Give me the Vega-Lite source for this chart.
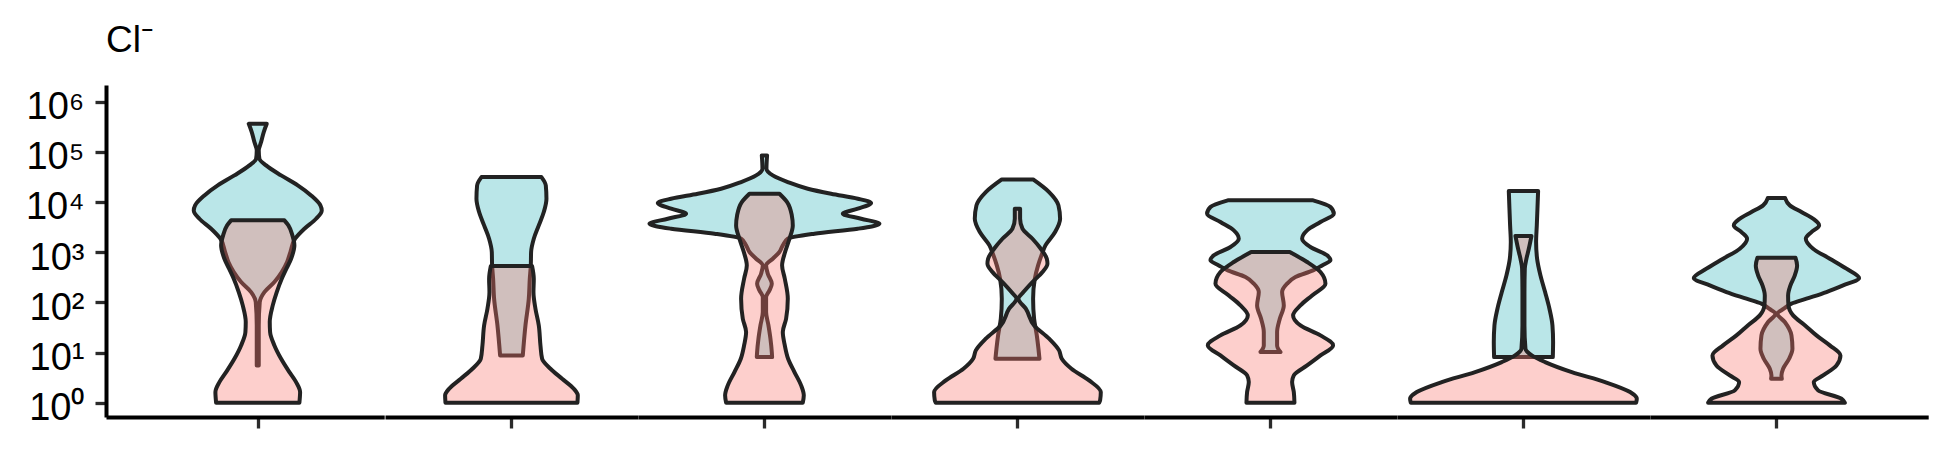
{
  "$schema": "https://vega.github.io/schema/vega-lite/v6.json",
  "background": "white",
  "padding": {"left": 25, "top": 22, "right": 5, "bottom": 5},
  "config": {"view": {"stroke": null}, "font": "Liberation Sans", "concat": {"spacing": 0}},
  "spacing": 0,
  "resolve": {"scale": {"x": "independent", "y": "independent"}},
  "data": {"values": [
    {"site":"S1","group":"A","cl":361000,"density":18},{"site":"S1","group":"A","cl":247000,"density":12},{"site":"S1","group":"A","cl":156000,"density":6.7},{"site":"S1","group":"A","cl":106400,"density":2},{"site":"S1","group":"A","cl":72600,"density":3.3},{"site":"S1","group":"A","cl":53500,"density":16.7},{"site":"S1","group":"A","cl":33800,"density":46.7},{"site":"S1","group":"A","cl":21400,"density":80},{"site":"S1","group":"A","cl":13500,"density":106.7},{"site":"S1","group":"A","cl":8550,"density":125.3},{"site":"S1","group":"A","cl":6790,"density":128},{"site":"S1","group":"A","cl":4630,"density":116.7},{"site":"S1","group":"A","cl":2930,"density":93.3},{"site":"S1","group":"A","cl":1850,"density":74.7},{"site":"S1","group":"A","cl":1005,"density":65.3},{"site":"S1","group":"A","cl":635,"density":58.7},{"site":"S1","group":"A","cl":401,"density":48},{"site":"S1","group":"A","cl":254,"density":33.3},{"site":"S1","group":"A","cl":160,"density":13.3},{"site":"S1","group":"A","cl":101.4,"density":4},{"site":"S1","group":"A","cl":34.7,"density":2},{"site":"S1","group":"A","cl":10.2,"density":2},{"site":"S1","group":"A","cl":5.53,"density":2},
    {"site":"S1","group":"B","cl":4300,"density":53.3},{"site":"S1","group":"B","cl":3412,"density":61.3},{"site":"S1","group":"B","cl":2158,"density":69.3},{"site":"S1","group":"B","cl":1365,"density":73.3},{"site":"S1","group":"B","cl":739.6,"density":66.7},{"site":"S1","group":"B","cl":467.7,"density":57.3},{"site":"S1","group":"B","cl":295.1,"density":48},{"site":"S1","group":"B","cl":160.3,"density":38},{"site":"S1","group":"B","cl":86.9,"density":30},{"site":"S1","group":"B","cl":40.46,"density":24},{"site":"S1","group":"B","cl":25.53,"density":24.7},{"site":"S1","group":"B","cl":13.87,"density":33.3},{"site":"S1","group":"B","cl":7.516,"density":46.7},{"site":"S1","group":"B","cl":4.074,"density":63.3},{"site":"S1","group":"B","cl":2.576,"density":76.7},{"site":"S1","group":"B","cl":1.629,"density":84.7},{"site":"S1","group":"B","cl":1,"density":83.3},
    {"site":"S2","group":"A","cl":31330,"density":60},{"site":"S2","group":"A","cl":21430,"density":68.7},{"site":"S2","group":"A","cl":11610,"density":70},{"site":"S2","group":"A","cl":6295,"density":64.7},{"site":"S2","group":"A","cl":3412,"density":54.7},{"site":"S2","group":"A","cl":1849,"density":44.7},{"site":"S2","group":"A","cl":1005,"density":39.3},{"site":"S2","group":"A","cl":544.5,"density":38.7},{"site":"S2","group":"A","cl":295.1,"density":36.7},{"site":"S2","group":"A","cl":118,"density":34.7},{"site":"S2","group":"A","cl":34.67,"density":28},{"site":"S2","group":"A","cl":8.75,"density":22.7},
    {"site":"S2","group":"B","cl":528.4,"density":41.3},{"site":"S2","group":"B","cl":295.1,"density":44.7},{"site":"S2","group":"B","cl":160.3,"density":44},{"site":"S2","group":"B","cl":74.6,"density":48},{"site":"S2","group":"B","cl":34.67,"density":54.7},{"site":"S2","group":"B","cl":13.87,"density":58},{"site":"S2","group":"B","cl":7.516,"density":61.3},{"site":"S2","group":"B","cl":4.753,"density":78},{"site":"S2","group":"B","cl":3.006,"density":101.3},{"site":"S2","group":"B","cl":1.897,"density":124.7},{"site":"S2","group":"B","cl":1.4,"density":132.7},{"site":"S2","group":"B","cl":1,"density":132},
    {"site":"S3","group":"A","cl":84720,"density":5.3},{"site":"S3","group":"A","cl":46030,"density":4},{"site":"S3","group":"A","cl":33810,"density":16.7},{"site":"S3","group":"A","cl":24890,"density":46.7},{"site":"S3","group":"A","cl":18370,"density":86.7},{"site":"S3","group":"A","cl":14590,"density":133.3},{"site":"S3","group":"A","cl":11610,"density":186.7},{"site":"S3","group":"A","cl":9506,"density":213.3},{"site":"S3","group":"A","cl":7328,"density":186.7},{"site":"S3","group":"A","cl":5834,"density":156.7},{"site":"S3","group":"A","cl":4634,"density":193.3},{"site":"S3","group":"A","cl":3681,"density":230},{"site":"S3","group":"A","cl":2931,"density":186.7},{"site":"S3","group":"A","cl":2328,"density":100},{"site":"S3","group":"A","cl":1849,"density":46.7},{"site":"S3","group":"A","cl":1365,"density":36.7},{"site":"S3","group":"A","cl":1005,"density":30},{"site":"S3","group":"A","cl":739.6,"density":16.7},{"site":"S3","group":"A","cl":544.5,"density":3.3},{"site":"S3","group":"A","cl":371.5,"density":6.7},{"site":"S3","group":"A","cl":235,"density":14.7},{"site":"S3","group":"A","cl":173,"density":10},{"site":"S3","group":"A","cl":127.4,"density":3.3},{"site":"S3","group":"A","cl":63.97,"density":3.3},{"site":"S3","group":"A","cl":34.67,"density":8},{"site":"S3","group":"A","cl":18.84,"density":12},{"site":"S3","group":"A","cl":10.21,"density":14.7},{"site":"S3","group":"A","cl":8.11,"density":15.3},
    {"site":"S3","group":"B","cl":14590,"density":30},{"site":"S3","group":"B","cl":9954,"density":45.3},{"site":"S3","group":"B","cl":5408,"density":54.7},{"site":"S3","group":"B","cl":3412,"density":56.7},{"site":"S3","group":"B","cl":1849,"density":50},{"site":"S3","group":"B","cl":1005,"density":41.3},{"site":"S3","group":"B","cl":544.5,"density":35.3},{"site":"S3","group":"B","cl":295.1,"density":40.7},{"site":"S3","group":"B","cl":118,"density":46.7},{"site":"S3","group":"B","cl":47.1,"density":43.3},{"site":"S3","group":"B","cl":25.53,"density":36.7},{"site":"S3","group":"B","cl":13.87,"density":40.7},{"site":"S3","group":"B","cl":7.516,"density":47.3},{"site":"S3","group":"B","cl":4.074,"density":60},{"site":"S3","group":"B","cl":2.213,"density":73.3},{"site":"S3","group":"B","cl":1.4,"density":78.7},{"site":"S3","group":"B","cl":1,"density":76.7},
    {"site":"S4","group":"A","cl":28120,"density":31.3},{"site":"S4","group":"A","cl":15740,"density":63.3},{"site":"S4","group":"A","cl":8551,"density":82},{"site":"S4","group":"A","cl":4634,"density":85.3},{"site":"S4","group":"A","cl":2512,"density":75.3},{"site":"S4","group":"A","cl":1365,"density":56},{"site":"S4","group":"A","cl":863,"density":48},{"site":"S4","group":"A","cl":544.5,"density":41.3},{"site":"S4","group":"A","cl":295.1,"density":34.7},{"site":"S4","group":"A","cl":118,"density":31.3},{"site":"S4","group":"A","cl":47.1,"density":33.3},{"site":"S4","group":"A","cl":21.93,"density":38.7},{"site":"S4","group":"A","cl":11.89,"density":42},{"site":"S4","group":"A","cl":7.516,"density":44},
    {"site":"S4","group":"B","cl":7328,"density":5.3},{"site":"S4","group":"B","cl":4634,"density":5.3},{"site":"S4","group":"B","cl":2931,"density":10},{"site":"S4","group":"B","cl":1849,"density":30},{"site":"S4","group":"B","cl":1169,"density":46.7},{"site":"S4","group":"B","cl":739.6,"density":58.7},{"site":"S4","group":"B","cl":587.5,"density":60},{"site":"S4","group":"B","cl":400.9,"density":50},{"site":"S4","group":"B","cl":253.5,"density":30},{"site":"S4","group":"B","cl":160.3,"density":12},{"site":"S4","group":"B","cl":118,"density":2},{"site":"S4","group":"B","cl":74.64,"density":16.7},{"site":"S4","group":"B","cl":34.67,"density":33.3},{"site":"S4","group":"B","cl":18.84,"density":63.3},{"site":"S4","group":"B","cl":11.02,"density":83.3},{"site":"S4","group":"B","cl":7.516,"density":88.7},{"site":"S4","group":"B","cl":4.753,"density":108},{"site":"S4","group":"B","cl":2.78,"density":143.3},{"site":"S4","group":"B","cl":1.629,"density":166.7},{"site":"S4","group":"B","cl":1.112,"density":165.3},{"site":"S4","group":"B","cl":1,"density":163.3},
    {"site":"S5","group":"A","cl":10760,"density":85.3},{"site":"S5","group":"A","cl":7925,"density":120},{"site":"S5","group":"A","cl":5834,"density":126.7},{"site":"S5","group":"A","cl":3981,"density":100},{"site":"S5","group":"A","cl":2716,"density":73.3},{"site":"S5","group":"A","cl":1849,"density":63.3},{"site":"S5","group":"A","cl":1265,"density":80},{"site":"S5","group":"A","cl":863,"density":113.3},{"site":"S5","group":"A","cl":685.5,"density":120},{"site":"S5","group":"A","cl":544.5,"density":103.3},{"site":"S5","group":"A","cl":433.5,"density":85.3},{"site":"S5","group":"A","cl":319.2,"density":50},{"site":"S5","group":"A","cl":235,"density":33.3},{"site":"S5","group":"A","cl":160.3,"density":23.3},{"site":"S5","group":"A","cl":86.9,"density":26.7},{"site":"S5","group":"A","cl":47.1,"density":18.7},{"site":"S5","group":"A","cl":25.53,"density":13.3},{"site":"S5","group":"A","cl":13.87,"density":13.3},{"site":"S5","group":"A","cl":10.21,"density":20},
    {"site":"S5","group":"B","cl":1005,"density":38.7},{"site":"S5","group":"B","cl":635.3,"density":73.3},{"site":"S5","group":"B","cl":400.9,"density":100},{"site":"S5","group":"B","cl":235,"density":110},{"site":"S5","group":"B","cl":137.4,"density":83.3},{"site":"S5","group":"B","cl":86.9,"density":60},{"site":"S5","group":"B","cl":54.95,"density":45.3},{"site":"S5","group":"B","cl":34.67,"density":60},{"site":"S5","group":"B","cl":21.93,"density":100},{"site":"S5","group":"B","cl":13.87,"density":125.3},{"site":"S5","group":"B","cl":8.75,"density":100},{"site":"S5","group":"B","cl":5.534,"density":73.3},{"site":"S5","group":"B","cl":3.499,"density":46.7},{"site":"S5","group":"B","cl":2.576,"density":43.3},{"site":"S5","group":"B","cl":1.629,"density":46.7},{"site":"S5","group":"B","cl":1,"density":48},
    {"site":"S6","group":"A","cl":16480,"density":29.3},{"site":"S6","group":"A","cl":7328,"density":28},{"site":"S6","group":"A","cl":3412,"density":26.7},{"site":"S6","group":"A","cl":1589,"density":25.3},{"site":"S6","group":"A","cl":739.6,"density":27.3},{"site":"S6","group":"A","cl":344.4,"density":34},{"site":"S6","group":"A","cl":160.3,"density":43.3},{"site":"S6","group":"A","cl":74.64,"density":52},{"site":"S6","group":"A","cl":34.67,"density":58},{"site":"S6","group":"A","cl":16.14,"density":59.3},{"site":"S6","group":"A","cl":8.11,"density":58.7},
    {"site":"S6","group":"B","cl":2094,"density":16},{"site":"S6","group":"B","cl":1169,"density":10.7},{"site":"S6","group":"B","cl":739.6,"density":6},{"site":"S6","group":"B","cl":467.7,"density":2.7},{"site":"S6","group":"B","cl":160.3,"density":2},{"site":"S6","group":"B","cl":34.67,"density":2},{"site":"S6","group":"B","cl":11.89,"density":4},{"site":"S6","group":"B","cl":8.75,"density":16.7},{"site":"S6","group":"B","cl":6.457,"density":43.3},{"site":"S6","group":"B","cl":4.074,"density":96.7},{"site":"S6","group":"B","cl":2.576,"density":163.3},{"site":"S6","group":"B","cl":1.629,"density":213.3},{"site":"S6","group":"B","cl":1.2,"density":226.7},{"site":"S6","group":"B","cl":1,"density":225.3},
    {"site":"S7","group":"A","cl":11970,"density":17.3},{"site":"S7","group":"A","cl":8551,"density":26.7},{"site":"S7","group":"A","cl":6295,"density":50},{"site":"S7","group":"A","cl":4634,"density":73.3},{"site":"S7","group":"A","cl":3412,"density":85.3},{"site":"S7","group":"A","cl":2512,"density":70},{"site":"S7","group":"A","cl":1849,"density":58.7},{"site":"S7","group":"A","cl":1169,"density":73.3},{"site":"S7","group":"A","cl":739.6,"density":106.7},{"site":"S7","group":"A","cl":467.7,"density":140},{"site":"S7","group":"A","cl":304.8,"density":165.3},{"site":"S7","group":"A","cl":217.8,"density":133.3},{"site":"S7","group":"A","cl":160.3,"density":100},{"site":"S7","group":"A","cl":118,"density":60},{"site":"S7","group":"A","cl":93.97,"density":30},{"site":"S7","group":"A","cl":74.64,"density":14.7},{"site":"S7","group":"A","cl":59.29,"density":2},{"site":"S7","group":"A","cl":40.46,"density":16.7},{"site":"S7","group":"A","cl":21.93,"density":30},{"site":"S7","group":"A","cl":11.89,"density":32},{"site":"S7","group":"A","cl":7.516,"density":25.3},{"site":"S7","group":"A","cl":4.753,"density":13.3},{"site":"S7","group":"A","cl":3.499,"density":10},{"site":"S7","group":"A","cl":3.006,"density":10.7},
    {"site":"S7","group":"B","cl":774.5,"density":38},{"site":"S7","group":"B","cl":544.5,"density":41.3},{"site":"S7","group":"B","cl":344.4,"density":36.7},{"site":"S7","group":"B","cl":217.8,"density":28},{"site":"S7","group":"B","cl":137.4,"density":23.3},{"site":"S7","group":"B","cl":86.9,"density":24},{"site":"S7","group":"B","cl":54.95,"density":33.3},{"site":"S7","group":"B","cl":34.67,"density":57.3},{"site":"S7","group":"B","cl":21.93,"density":80},{"site":"S7","group":"B","cl":13.87,"density":106.7},{"site":"S7","group":"B","cl":8.75,"density":128},{"site":"S7","group":"B","cl":5.534,"density":120},{"site":"S7","group":"B","cl":3.499,"density":93.3},{"site":"S7","group":"B","cl":2.576,"density":74.7},{"site":"S7","group":"B","cl":1.758,"density":83.3},{"site":"S7","group":"B","cl":1.2,"density":130},{"site":"S7","group":"B","cl":1,"density":136.7}
  ]},
  "hconcat": [
    {
      "width": 278.2, "height": 332,
      "title": {"text": "Cl⁻", "anchor": "start", "frame": "group", "fontSize": 37, "fontWeight": "normal", "font": "Liberation Sans", "color": "black", "baseline": "alphabetic", "offset": -4},
      "resolve": {"scale": {"x": "independent"}},
      "layer": [
        {"transform": [{"filter": "datum.site === 'S1' && datum.group === 'A'"}],
         "mark": {"type": "area", "orient": "horizontal", "interpolate": "monotone", "fill": "#BAE6E8", "stroke": "#222222", "strokeWidth": 4, "strokeJoin": "round"},
         "encoding": {
           "y": {"field": "cl", "type": "quantitative", "scale": {"type": "log", "domain": [0.519, 2140000], "nice": false},
                 "axis": {"title": null, "grid": false, "values": [1, 10, 100, 1000, 10000, 100000, 1000000], "labelExpr": "'10' + ['⁰','¹','²','³','⁴','⁵','⁶'][round(log(datum.value)/LN10)]", "labelFont": "Liberation Sans", "labelFontSize": 38, "labelColor": "black", "labelPadding": 11, "labelOffset": 6, "labelFlush": false, "labelOverlap": false, "tickSize": 11, "tickWidth": 3.3, "tickColor": "#2b2b2b", "domainColor": "black", "domainWidth": 4}},
           "x": {"field": "density", "type": "quantitative", "stack": "center", "scale": {"domain": [-87.75, 190.45], "nice": false, "zero": false}, "axis": null}
         }},
        {"transform": [{"filter": "datum.site === 'S1' && datum.group === 'B'"}],
         "mark": {"type": "area", "orient": "horizontal", "interpolate": "monotone", "fill": "#F8766D", "fillOpacity": 0.35, "stroke": "#222222", "strokeWidth": 4, "strokeJoin": "round"},
         "encoding": {
           "y": {"field": "cl", "type": "quantitative", "scale": {"type": "log", "domain": [0.519, 2140000], "nice": false},
                 "axis": {"title": null, "grid": false, "values": [1, 10, 100, 1000, 10000, 100000, 1000000], "labelExpr": "'10' + ['⁰','¹','²','³','⁴','⁵','⁶'][round(log(datum.value)/LN10)]", "labelFont": "Liberation Sans", "labelFontSize": 38, "labelColor": "black", "labelPadding": 11, "labelOffset": 6, "labelFlush": false, "labelOverlap": false, "tickSize": 11, "tickWidth": 3.3, "tickColor": "#2b2b2b", "domainColor": "black", "domainWidth": 4}},
           "x": {"field": "density", "type": "quantitative", "stack": "center", "scale": {"domain": [-109.4, 168.8], "nice": false, "zero": false},
                 "axis": {"title": null, "grid": false, "values": [42.35], "labels": false, "tickSize": 11, "tickWidth": 3.3, "tickColor": "#2b2b2b", "domainColor": "black", "domainWidth": 4}}
         }}
      ]
    },
    {
      "width": 252.9, "height": 332,
      "resolve": {"scale": {"x": "independent"}},
      "layer": [
        {"transform": [{"filter": "datum.site === 'S2' && datum.group === 'A'"}],
         "mark": {"type": "area", "orient": "horizontal", "interpolate": "monotone", "fill": "#BAE6E8", "stroke": "#222222", "strokeWidth": 4, "strokeJoin": "round"},
         "encoding": {
           "y": {"field": "cl", "type": "quantitative", "scale": {"type": "log", "domain": [0.519, 2140000], "nice": false}, "axis": null},
           "x": {"field": "density", "type": "quantitative", "stack": "center", "scale": {"domain": [-91.45, 161.45], "nice": false, "zero": false}, "axis": null}
         }},
        {"transform": [{"filter": "datum.site === 'S2' && datum.group === 'B'"}],
         "mark": {"type": "area", "orient": "horizontal", "interpolate": "monotone", "fill": "#F8766D", "fillOpacity": 0.35, "stroke": "#222222", "strokeWidth": 4, "strokeJoin": "round"},
         "encoding": {
           "y": {"field": "cl", "type": "quantitative", "scale": {"type": "log", "domain": [0.519, 2140000], "nice": false}, "axis": null},
           "x": {"field": "density", "type": "quantitative", "stack": "center", "scale": {"domain": [-60.1, 192.8], "nice": false, "zero": false},
                 "axis": {"title": null, "grid": false, "values": [66.35], "labels": false, "tickSize": 11, "tickWidth": 3.3, "tickColor": "#2b2b2b", "domainColor": "black", "domainWidth": 4}}
         }}
      ]
    },
    {
      "width": 252.9, "height": 332,
      "resolve": {"scale": {"x": "independent"}},
      "layer": [
        {"transform": [{"filter": "datum.site === 'S3' && datum.group === 'A'"}],
         "mark": {"type": "area", "orient": "horizontal", "interpolate": "monotone", "fill": "#BAE6E8", "stroke": "#222222", "strokeWidth": 4, "strokeJoin": "round"},
         "encoding": {
           "y": {"field": "cl", "type": "quantitative", "scale": {"type": "log", "domain": [0.519, 2140000], "nice": false}, "axis": null},
           "x": {"field": "density", "type": "quantitative", "stack": "center", "scale": {"domain": [-11.45, 241.45], "nice": false, "zero": false}, "axis": null}
         }},
        {"transform": [{"filter": "datum.site === 'S3' && datum.group === 'B'"}],
         "mark": {"type": "area", "orient": "horizontal", "interpolate": "monotone", "fill": "#F8766D", "fillOpacity": 0.35, "stroke": "#222222", "strokeWidth": 4, "strokeJoin": "round"},
         "encoding": {
           "y": {"field": "cl", "type": "quantitative", "scale": {"type": "log", "domain": [0.519, 2140000], "nice": false}, "axis": null},
           "x": {"field": "density", "type": "quantitative", "stack": "center", "scale": {"domain": [-87.1, 165.8], "nice": false, "zero": false},
                 "axis": {"title": null, "grid": false, "values": [39.35], "labels": false, "tickSize": 11, "tickWidth": 3.3, "tickColor": "#2b2b2b", "domainColor": "black", "domainWidth": 4}}
         }}
      ]
    },
    {
      "width": 252.9, "height": 332,
      "resolve": {"scale": {"x": "independent"}},
      "layer": [
        {"transform": [{"filter": "datum.site === 'S4' && datum.group === 'A'"}],
         "mark": {"type": "area", "orient": "horizontal", "interpolate": "monotone", "fill": "#BAE6E8", "stroke": "#222222", "strokeWidth": 4, "strokeJoin": "round"},
         "encoding": {
           "y": {"field": "cl", "type": "quantitative", "scale": {"type": "log", "domain": [0.519, 2140000], "nice": false}, "axis": null},
           "x": {"field": "density", "type": "quantitative", "stack": "center", "scale": {"domain": [-83.8, 169.1], "nice": false, "zero": false}, "axis": null}
         }},
        {"transform": [{"filter": "datum.site === 'S4' && datum.group === 'B'"}],
         "mark": {"type": "area", "orient": "horizontal", "interpolate": "monotone", "fill": "#F8766D", "fillOpacity": 0.35, "stroke": "#222222", "strokeWidth": 4, "strokeJoin": "round"},
         "encoding": {
           "y": {"field": "cl", "type": "quantitative", "scale": {"type": "log", "domain": [0.519, 2140000], "nice": false}, "axis": null},
           "x": {"field": "density", "type": "quantitative", "stack": "center", "scale": {"domain": [-43.1, 209.8], "nice": false, "zero": false},
                 "axis": {"title": null, "grid": false, "values": [83.35], "labels": false, "tickSize": 11, "tickWidth": 3.3, "tickColor": "#2b2b2b", "domainColor": "black", "domainWidth": 4}}
         }}
      ]
    },
    {
      "width": 252.9, "height": 332,
      "resolve": {"scale": {"x": "independent"}},
      "layer": [
        {"transform": [{"filter": "datum.site === 'S5' && datum.group === 'A'"}],
         "mark": {"type": "area", "orient": "horizontal", "interpolate": "monotone", "fill": "#BAE6E8", "stroke": "#222222", "strokeWidth": 4, "strokeJoin": "round"},
         "encoding": {
           "y": {"field": "cl", "type": "quantitative", "scale": {"type": "log", "domain": [0.519, 2140000], "nice": false}, "axis": null},
           "x": {"field": "density", "type": "quantitative", "stack": "center", "scale": {"domain": [-63.1, 189.8], "nice": false, "zero": false}, "axis": null}
         }},
        {"transform": [{"filter": "datum.site === 'S5' && datum.group === 'B'"}],
         "mark": {"type": "area", "orient": "horizontal", "interpolate": "monotone", "fill": "#F8766D", "fillOpacity": 0.35, "stroke": "#222222", "strokeWidth": 4, "strokeJoin": "round"},
         "encoding": {
           "y": {"field": "cl", "type": "quantitative", "scale": {"type": "log", "domain": [0.519, 2140000], "nice": false}, "axis": null},
           "x": {"field": "density", "type": "quantitative", "stack": "center", "scale": {"domain": [-63.8, 189.1], "nice": false, "zero": false},
                 "axis": {"title": null, "grid": false, "values": [62.65], "labels": false, "tickSize": 11, "tickWidth": 3.3, "tickColor": "#2b2b2b", "domainColor": "black", "domainWidth": 4}}
         }}
      ]
    },
    {
      "width": 252.9, "height": 332,
      "resolve": {"scale": {"x": "independent"}},
      "layer": [
        {"transform": [{"filter": "datum.site === 'S6' && datum.group === 'A'"}],
         "mark": {"type": "area", "orient": "horizontal", "interpolate": "monotone", "fill": "#BAE6E8", "stroke": "#222222", "strokeWidth": 4, "strokeJoin": "round"},
         "encoding": {
           "y": {"field": "cl", "type": "quantitative", "scale": {"type": "log", "domain": [0.519, 2140000], "nice": false}, "axis": null},
           "x": {"field": "density", "type": "quantitative", "stack": "center", "scale": {"domain": [-96.8, 156.1], "nice": false, "zero": false}, "axis": null}
         }},
        {"transform": [{"filter": "datum.site === 'S6' && datum.group === 'B'"}],
         "mark": {"type": "area", "orient": "horizontal", "interpolate": "monotone", "fill": "#F8766D", "fillOpacity": 0.35, "stroke": "#222222", "strokeWidth": 4, "strokeJoin": "round"},
         "encoding": {
           "y": {"field": "cl", "type": "quantitative", "scale": {"type": "log", "domain": [0.519, 2140000], "nice": false}, "axis": null},
           "x": {"field": "density", "type": "quantitative", "stack": "center", "scale": {"domain": [-13.1, 239.8], "nice": false, "zero": false},
                 "axis": {"title": null, "grid": false, "values": [113.35], "labels": false, "tickSize": 11, "tickWidth": 3.3, "tickColor": "#2b2b2b", "domainColor": "black", "domainWidth": 4}}
         }}
      ]
    },
    {
      "width": 278.2, "height": 332,
      "resolve": {"scale": {"x": "independent"}},
      "layer": [
        {"transform": [{"filter": "datum.site === 'S7' && datum.group === 'A'"}],
         "mark": {"type": "area", "orient": "horizontal", "interpolate": "monotone", "fill": "#BAE6E8", "stroke": "#222222", "strokeWidth": 4, "strokeJoin": "round"},
         "encoding": {
           "y": {"field": "cl", "type": "quantitative", "scale": {"type": "log", "domain": [0.519, 2140000], "nice": false}, "axis": null},
           "x": {"field": "density", "type": "quantitative", "stack": "center", "scale": {"domain": [-43.8, 234.4], "nice": false, "zero": false}, "axis": null}
         }},
        {"transform": [{"filter": "datum.site === 'S7' && datum.group === 'B'"}],
         "mark": {"type": "area", "orient": "horizontal", "interpolate": "monotone", "fill": "#F8766D", "fillOpacity": 0.35, "stroke": "#222222", "strokeWidth": 4, "strokeJoin": "round"},
         "encoding": {
           "y": {"field": "cl", "type": "quantitative", "scale": {"type": "log", "domain": [0.519, 2140000], "nice": false}, "axis": null},
           "x": {"field": "density", "type": "quantitative", "stack": "center", "scale": {"domain": [-58.1, 220.1], "nice": false, "zero": false},
                 "axis": {"title": null, "grid": false, "values": [68.35], "labels": false, "tickSize": 11, "tickWidth": 3.3, "tickColor": "#2b2b2b", "domainColor": "black", "domainWidth": 4}}
         }}
      ]
    }
  ]
}
